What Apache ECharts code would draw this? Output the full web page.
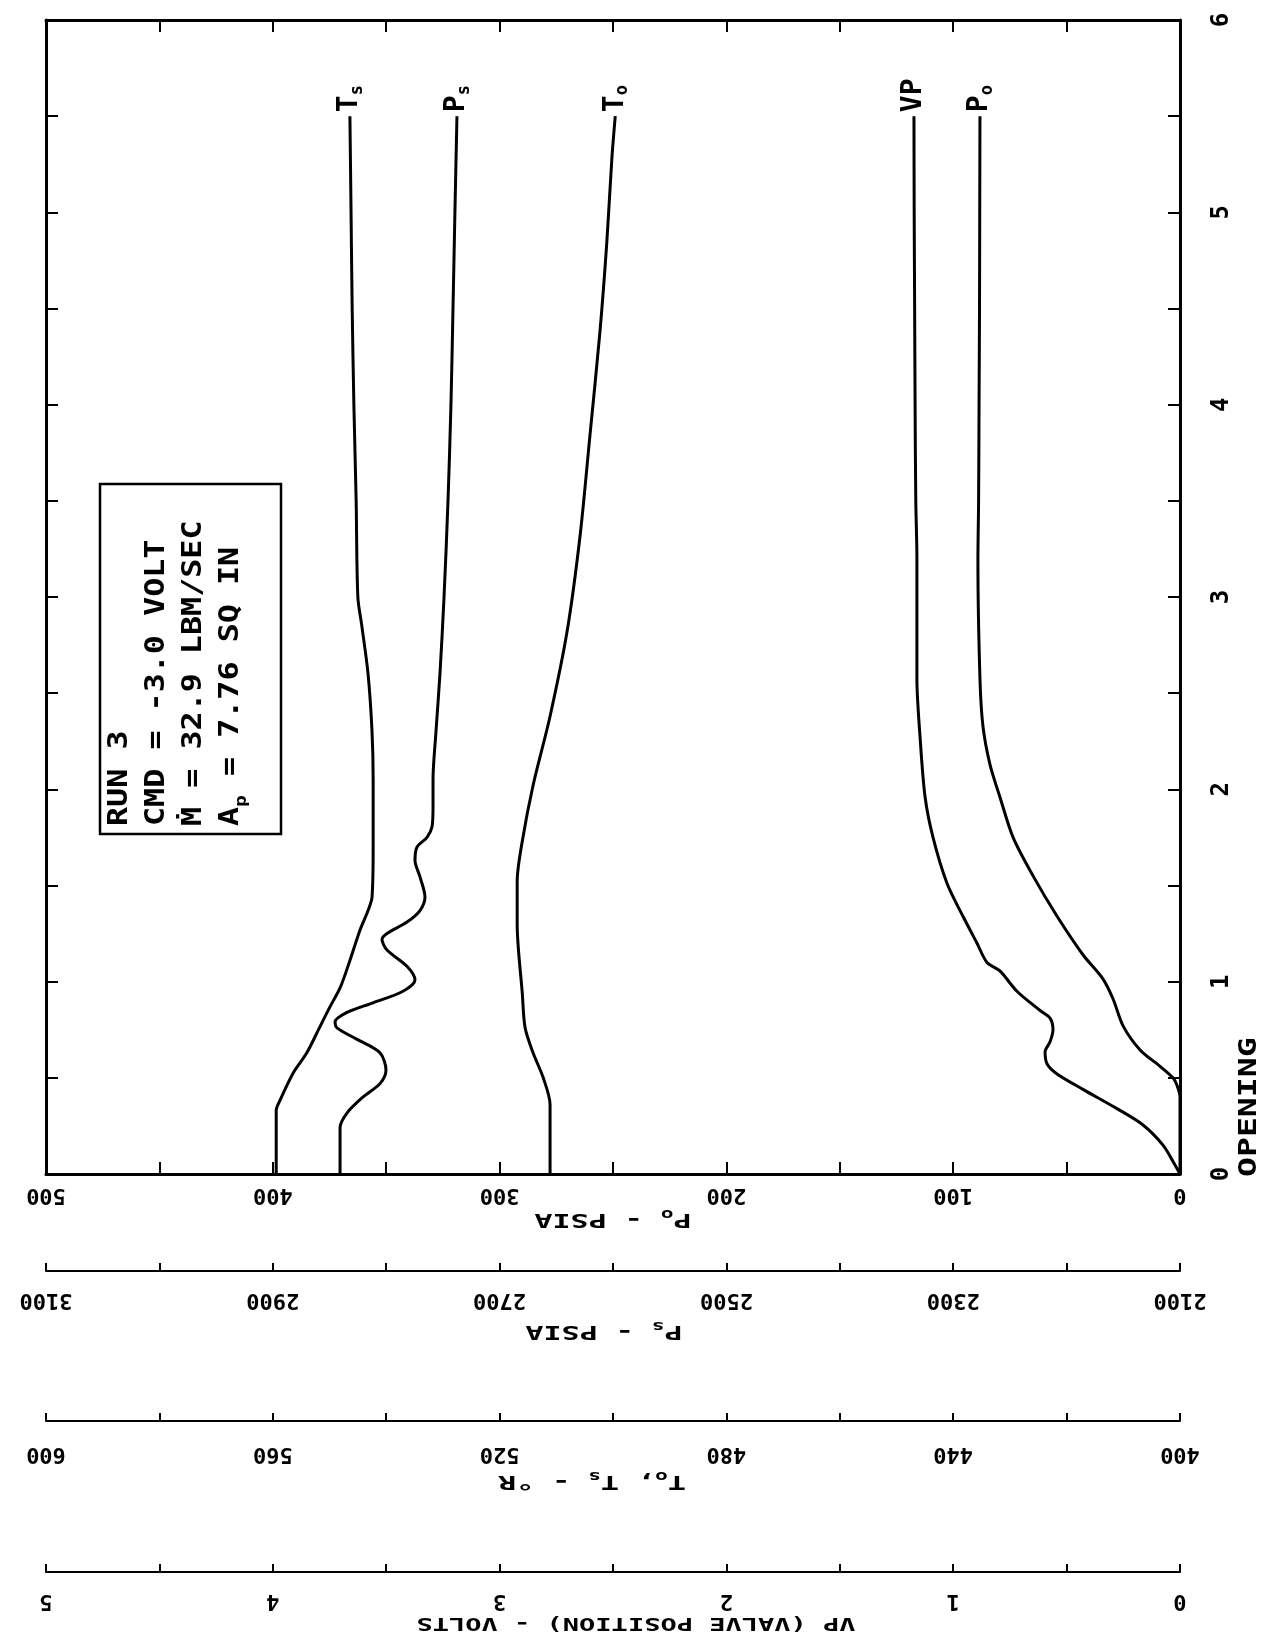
<!DOCTYPE html>
<html>
<head>
<meta charset="utf-8">
<script src="https://cdn.jsdelivr.net/npm/echarts@6.0.0/dist/echarts.min.js"></script>
<style>
  html, body { margin: 0; padding: 0; background: #fff; }
  #chart { width: 1265px; height: 1643px; }
</style>
</head>
<body>
<div id="chart"></div>
<script>
// values; opening is the vertical axis
const tsOpening = [0, 0.33, 0.385, 0.525, 0.63, 0.765, 0.87, 0.97, 1.11, 1.27, 1.37, 1.44, 1.70, 2.05, 2.3, 2.6, 2.85, 3.0, 3.5, 4.0, 4.5, 5.0, 5.5];
const tsValues = [559.4, 559.4, 558.7, 556.4, 554.0, 551.7, 549.9, 548.1, 546.4, 544.6, 543.2, 542.5, 542.3, 542.3, 542.5, 543.2, 544.3, 545.0, 545.3, 545.7, 546.0, 546.2, 546.4];

const psOpening = [0, 0.24, 0.317, 0.40, 0.47, 0.54, 0.63, 0.70, 0.76, 0.79, 0.84, 0.89, 0.95, 1.01, 1.08, 1.165, 1.22, 1.25, 1.31, 1.37, 1.44, 1.545, 1.63, 1.70, 1.75, 1.805, 1.91, 2.05, 2.3, 2.6, 3.0, 3.5, 4.0, 4.5, 5.0, 5.5];
const psValues = [2840.7, 2840.7, 2834.6, 2820.5, 2805.5, 2800.2, 2805.5, 2825.7, 2843.4, 2845.1, 2834.6, 2811.6, 2785.2, 2774.6, 2781.7, 2799.3, 2803.7, 2799.3, 2781.7, 2770.2, 2765.8, 2770.2, 2774.6, 2772.8, 2764.0, 2759.6, 2758.7, 2758.7, 2756.1, 2752.6, 2749.0, 2745.5, 2742.9, 2741.1, 2739.4, 2737.6];

const toOpening = [0, 0.36, 0.50, 0.63, 0.76, 0.94, 1.30, 1.52, 1.73, 2.02, 2.38, 2.82, 3.32, 3.83, 4.38, 4.84, 5.28, 5.5];
const toValues = [511.1, 511.1, 512.3, 514.1, 515.5, 516.0, 516.9, 516.9, 516.0, 514.1, 511.1, 508.1, 505.8, 504.1, 502.3, 501.1, 500.2, 499.6];

const vpOpening = [0, 0.047, 0.15, 0.255, 0.34, 0.44, 0.52, 0.572, 0.635, 0.687, 0.75, 0.81, 0.85, 0.95, 1.056, 1.10, 1.20, 1.34, 1.51, 1.75, 1.96, 2.27, 2.575, 3.2, 3.5, 4.0, 4.5, 5.0, 5.5];
const vpValues = [0, 0.022, 0.075, 0.163, 0.278, 0.428, 0.542, 0.586, 0.595, 0.573, 0.560, 0.573, 0.617, 0.719, 0.794, 0.851, 0.895, 0.957, 1.027, 1.089, 1.124, 1.146, 1.160, 1.160, 1.165, 1.168, 1.170, 1.172, 1.173];

const poOpening = [0, 0.40, 0.46, 0.50, 0.56, 0.645, 0.77, 0.91, 1.015, 1.14, 1.34, 1.55, 1.75, 1.96, 2.13, 2.33, 2.575, 3.19, 3.5, 4.0, 4.5, 5.0, 5.5];
const poValues = [0, 0, 1.3, 3.1, 8.8, 17.6, 25.1, 29.5, 34.0, 42.8, 54.2, 64.8, 73.6, 79.4, 83.8, 86.9, 88.2, 89.1, 88.8, 88.6, 88.4, 88.3, 88.2];

const curveNames = ['{m|T}{s|s}', '{m|P}{s|s}', '{m|T}{s|o}', '{m|VP}', '{m|P}{s|o}'];
const boxLines = ['RUN 3', 'CMD = -3.0 VOLT', '\u1E40 = 32.9 LBM/SEC', 'A{sub|p} = 7.76 SQ IN'];

const FONT = 'DejaVu Sans Mono';
const chart = echarts.init(document.getElementById('chart'));

function makeData(openings, values, name) {
    return openings.map(function (o, i) {
        const item = { value: [values[i], o] };
        if (i === openings.length - 1) {
            item.label = {
                show: true,
                position: 'top',
                distance: 4,
                rotate: 90,
                align: 'left',
                verticalAlign: 'middle',
                formatter: name,
                rich: {
                    m: { fontFamily: FONT, fontWeight: 'bold', fontSize: 28, color: '#000', lineHeight: 32 },
                    s: { fontFamily: FONT, fontWeight: 'bold', fontSize: 17, color: '#000', lineHeight: 17, verticalAlign: 'bottom' }
                }
            };
        }
        return item;
    });
}

function valueAxis(min, max, interval, offset, margin, showLabel) {
    return {
        type: 'value',
        position: 'bottom',
        inverse: true,
        min: min,
        max: max,
        interval: interval,
        offset: offset,
        axisLine: { show: true, onZero: false, lineStyle: { color: '#000', width: offset ? 2 : 3 } },
        axisTick: { show: true, inside: true, length: offset ? 8 : 12, lineStyle: { color: '#000', width: 2 } },
        axisLabel: {
            show: true,
            rotate: 180,
            margin: margin,
            fontFamily: FONT,
            fontWeight: 'bold',
            fontSize: 22,
            color: '#000',
            formatter: function (v) { return showLabel(v) ? String(v) : ''; }
        },
        splitLine: { show: false }
    };
}

function lineSeries(axisIndex, openings, values, name) {
    return {
        type: 'line',
        xAxisIndex: axisIndex,
        yAxisIndex: 0,
        data: makeData(openings, values, name),
        showSymbol: true,
        symbol: 'circle',
        symbolSize: 0,
        smooth: 0.3,
        lineStyle: { color: '#000', width: 3 },
        itemStyle: { color: '#000' },
        emphasis: { disabled: true },
        silent: true
    };
}

const subRich = {
    sub: { fontFamily: FONT, fontWeight: 'bold', fontSize: 14, color: '#000', lineHeight: 14, verticalAlign: 'bottom' }
};

function flippedTitle(text, cx, cy, size) {
    return {
        type: 'text',
        x: cx,
        y: cy,
        rotation: Math.PI,
        scaleX: 1.5,
        style: {
            text: text,
            fontFamily: FONT,
            fontWeight: 'bold',
            fontSize: size,
            lineHeight: 24,
            fill: '#000',
            align: 'center',
            verticalAlign: 'middle',
            rich: subRich
        }
    };
}

const option = {
    backgroundColor: '#fff',
    animation: false,
    grid: { left: 46, right: 85, top: 20, bottom: 469, containLabel: false, outerBoundsMode: 'none' },
    xAxis: [
        valueAxis(0, 500, 50, 0, 10, function (v) { return v % 100 === 0; }),
        valueAxis(2100, 3100, 100, 97, 18, function (v) { return (v - 2100) % 200 === 0; }),
        valueAxis(400, 600, 20, 247, 22, function (v) { return (v - 400) % 40 === 0; }),
        valueAxis(0, 5, 0.5, 398, 18, function (v) { return Number.isInteger(v); }),
        {
            type: 'value', position: 'top', inverse: true, min: 0, max: 500, interval: 50,
            axisLine: { show: true, onZero: false, lineStyle: { color: '#000', width: 3 } },
            axisTick: { show: true, inside: true, length: 12, lineStyle: { color: '#000', width: 2 } },
            axisLabel: { show: false },
            splitLine: { show: false }
        }
    ],
    yAxis: [
        {
            type: 'value', position: 'right', min: 0, max: 6, interval: 0.5,
            axisLine: { show: true, onZero: false, lineStyle: { color: '#000', width: 3 } },
            axisTick: { show: true, inside: true, length: 12, lineStyle: { color: '#000', width: 2 } },
            axisLabel: {
                show: true, rotate: 90, margin: 30,
                fontFamily: FONT, fontWeight: 'bold', fontSize: 24, color: '#000',
                formatter: function (v) { return Number.isInteger(v) ? String(v) : ''; }
            },
            splitLine: { show: false }
        },
        {
            type: 'value', position: 'left', min: 0, max: 6, interval: 0.5,
            axisLine: { show: true, onZero: false, lineStyle: { color: '#000', width: 3 } },
            axisTick: { show: true, inside: true, length: 12, lineStyle: { color: '#000', width: 2 } },
            axisLabel: { show: false },
            splitLine: { show: false }
        }
    ],
    series: [
        lineSeries(2, tsOpening, tsValues, curveNames[0]),
        lineSeries(1, psOpening, psValues, curveNames[1]),
        lineSeries(2, toOpening, toValues, curveNames[2]),
        lineSeries(3, vpOpening, vpValues, curveNames[3]),
        lineSeries(0, poOpening, poValues, curveNames[4])
    ],
    graphic: [
        {
            type: 'rect',
            shape: { x: 100, y: 484, width: 181, height: 350 },
            style: { fill: 'none', stroke: '#000', lineWidth: 2.5 }
        },
        {
            type: 'text',
            x: 102,
            y: 826,
            rotation: Math.PI / 2,
            scaleX: 1.22,
            style: {
                text: boxLines.join('\n'),
                fontFamily: FONT,
                fontWeight: 'bold',
                fontSize: 26,
                lineHeight: 37,
                fill: '#000',
                align: 'left',
                verticalAlign: 'top',
                rich: {
                    sub: { fontFamily: FONT, fontWeight: 'bold', fontSize: 16, color: '#000', lineHeight: 16, verticalAlign: 'bottom' }
                }
            }
        },
        {
            type: 'text',
            x: 1250,
            y: 1177,
            rotation: Math.PI / 2,
            scaleX: 1.38,
            style: {
                text: 'OPENING',
                fontFamily: FONT,
                fontWeight: 'bold',
                fontSize: 24,
                fill: '#000',
                align: 'left',
                verticalAlign: 'middle'
            }
        },
        flippedTitle('P{sub|o} - PSIA', 613, 1219, 20),
        flippedTitle('P{sub|s} - PSIA', 604, 1331, 20),
        flippedTitle('T{sub|o}, T{sub|s} - \u00B0R', 592, 1481, 20),
        flippedTitle('VP (VALVE POSITION) - VOLTS', 636, 1623, 18)
    ]
};

chart.setOption(option);
</script>
</body>
</html>
